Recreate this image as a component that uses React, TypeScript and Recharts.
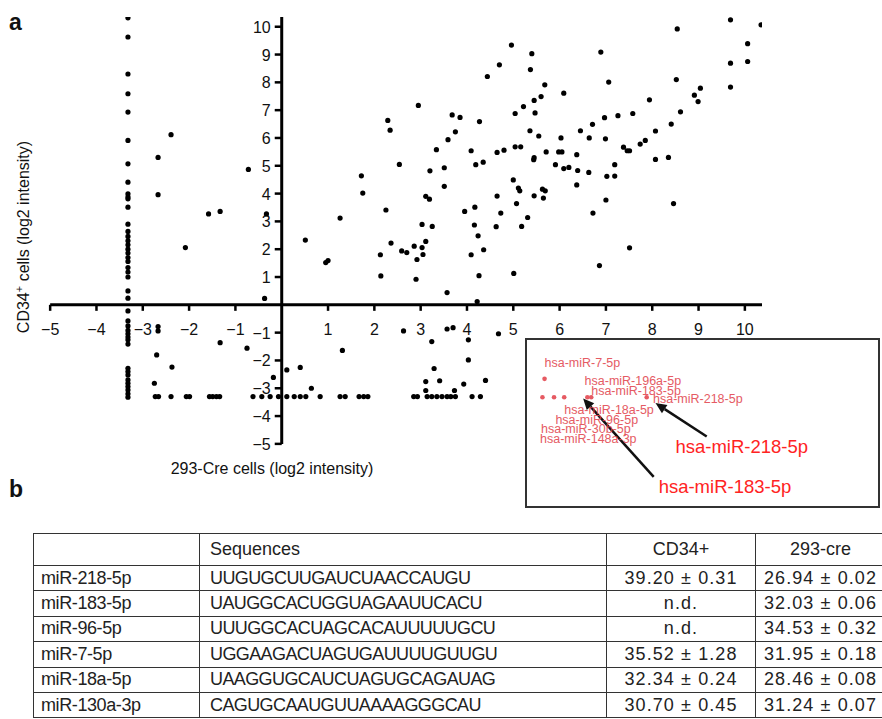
import { ScatterChart, Scatter, XAxis, YAxis, ReferenceLine } from "recharts";

// ---- panel a: main scatter (log2 intensity) ----
// dense column of points at x = -3.32 (not detected in 293-Cre)
const COL_X = -3.32;
const COL_Y = [
  10.32, 9.63, 8.3, 7.59, 6.93, 5.91, 5.07, 4.41, 3.99, 3.88, 3.81, 3.51, 2.9, 2.64, 2.46, 2.3, 2.16, 2.0,
  1.86, 1.7, 1.56, 1.34, 1.18, 1.0, 0.5, 0.24, -0.22, -0.58, -0.76, -0.92, -1.04, -1.16, -1.26, -1.41,
  -2.28, -2.4, -2.52, -2.7, -2.82, -2.94, -3.06, -3.2, -3.32,
];

// row of points at y = -3.3 (not detected in CD34+)
const ROW_Y = -3.3;
const ROW_X = [
  -2.73, -2.66, -2.39, -2.06, -1.99, -1.56, -1.49, -1.41, -1.34, -0.62, -0.43, -0.25, -0.07, 0.11, 0.27,
  0.4, 0.52, 0.83, 1.26, 1.37, 1.67, 1.77, 1.86, 2.85, 2.93, 3.14, 3.24, 3.35, 3.46, 3.57, 3.65, 3.75,
  4.11, 4.29,
];

const LEFT_PTS = [
  [-2.67, 5.3], [-2.39, 6.12], [-2.67, 3.96], [-1.58, 3.27], [-1.33, 3.36], [-2.08, 2.06], [-0.72, 4.87],
  [-0.33, 3.27], [-0.37, 0.23], [-2.67, -0.78], [-2.67, -0.94], [-1.33, -1.36], [-0.75, -1.56],
  [-2.7, -1.8], [-2.37, -2.24], [-2.75, -2.82], [-0.18, -2.61],
];

const LOW_RIGHT_PTS = [
  [0.11, -2.34], [0.4, -2.25], [0.64, -3.0], [1.31, -1.64], [2.63, -0.94], [3.24, -1.32], [3.57, -0.87],
  [3.7, -0.82], [4.03, -1.26], [4.68, -1.04], [4.03, -1.98], [3.29, -2.29], [3.11, -2.76], [3.41, -2.73],
  [4.4, -2.72], [3.93, -2.85], [3.11, -3.08], [3.73, -3.08],
];

const UP_RIGHT_PTS = [
  [4.22, 0.12], [3.57, 0.44], [1.0, 1.59], [0.95, 1.52], [4.96, 9.34], [4.7, 8.63], [4.44, 8.21],
  [2.95, 7.17], [2.29, 6.63], [2.34, 6.28], [3.68, 6.83], [3.85, 6.74], [4.27, 6.59], [3.75, 6.22],
  [3.59, 5.94], [3.34, 5.58], [4.09, 5.54], [5.04, 6.88], [5.04, 5.68], [5.16, 5.68], [4.65, 5.48],
  [4.8, 5.56], [4.19, 5.04], [4.35, 5.13], [2.54, 5.05], [3.2, 4.82], [3.51, 4.93], [1.72, 4.64],
  [1.75, 4.02], [3.11, 3.9], [3.19, 3.8], [3.51, 4.26], [2.25, 3.41], [1.26, 3.12], [0.51, 2.33],
  [3.03, 2.89], [3.25, 2.82], [2.36, 2.22], [2.13, 1.8], [2.59, 1.94], [2.7, 1.88], [2.86, 2.11],
  [3.03, 2.06], [3.11, 2.28], [2.92, 1.63], [3.05, 1.81], [2.14, 1.04], [2.9, 0.92], [3.95, 3.36],
  [4.17, 3.51], [4.16, 2.87], [4.24, 2.48], [4.36, 1.98], [4.09, 1.8], [4.26, 1.05], [4.65, 3.91],
  [4.73, 3.3], [4.63, 2.81], [5.0, 4.49], [5.11, 4.2], [5.14, 4.1], [5.07, 3.64], [5.18, 2.82],
  [5.01, 1.13], [5.31, 3.14], [5.44, 5.22], [5.91, 5.04], [6.09, 4.9], [6.2, 4.94], [6.39, 4.83],
  [6.63, 4.76], [6.37, 4.31], [5.45, 3.92], [5.63, 4.16], [5.69, 4.1], [5.65, 3.84], [7.02, 4.62],
  [7.19, 4.63], [7.19, 5.04], [7.0, 3.77], [6.72, 3.3], [8.46, 3.64], [7.51, 2.05], [6.86, 1.41],
  [8.54, 9.92], [9.69, 10.25], [10.35, 10.07], [10.06, 9.39], [10.06, 8.75], [9.69, 8.69], [9.69, 7.83],
  [8.52, 8.1], [6.89, 9.09], [7.06, 8.01], [5.4, 9.03], [5.37, 8.46], [5.68, 7.91], [5.6, 7.49],
  [5.45, 7.35], [5.22, 7.13], [5.47, 6.9], [6.09, 7.61], [7.94, 7.37], [9.04, 7.79], [8.91, 7.54],
  [8.99, 7.31], [8.61, 6.94], [8.41, 6.5], [8.07, 6.25], [7.58, 6.88], [7.26, 6.8], [6.97, 6.73],
  [6.71, 6.49], [6.45, 6.26], [6.64, 6.0], [6.99, 5.97], [6.03, 6.0], [5.36, 6.26], [5.55, 6.07],
  [5.45, 5.29], [5.71, 5.5], [5.98, 5.5], [6.05, 5.5], [6.37, 5.4], [7.38, 5.67], [7.46, 5.54],
  [7.51, 5.54], [7.74, 5.78], [7.85, 5.91], [8.07, 5.23], [8.35, 5.3],
];

const X_TICKS = [-5, -4, -3, -2, -1, 1, 2, 3, 4, 5, 6, 7, 8, 9, 10];
const Y_TICKS = [-5, -4, -3, -2, -1, 1, 2, 3, 4, 5, 6, 7, 8, 9, 10];
const X_MIN = -5, X_MAX = 10.37, Y_MIN = -5, Y_MAX = 10.35;

// ---- inset (zoomed view, arbitrary 0-100 units) ----
const INSET_DOTS = [[5.0, 76.6], [4.4, 65.5], [7.7, 65.5], [10.6, 65.5], [17.2, 65.5], [18.3, 65.5], [34.1, 65.5]];
const INSET_NAMES = [
  "hsa-miR-7-5p", "hsa-miR-196a-5p", "hsa-miR-183-5p", "hsa-miR-218-5p",
  "hsa-miR-18a-5p", "hsa-miR-96-5p", "hsa-miR-30b-5p", "hsa-miR-148a-3p",
];
const INSET_NAME_POS = [[5.0, 86.6], [16.4, 75.7], [18.3, 69.4], [35.9, 64.7], [10.6, 58.2], [8.1, 52.2], [4.0, 46.5], [3.7, 40.6]];
const CALLOUTS = ["hsa-miR-218-5p", "hsa-miR-183-5p"];
const CALLOUT_POS = [[42.3, 35.7], [37.5, 11.6]];
const ARROWS = [
  [[51.2, 41.9], [36.6, 62.0]],
  [[36.1, 17.5], [16.0, 64.8]],
];

// ---- panel b: table ----
const MIRS = ["miR-218-5p", "miR-183-5p", "miR-96-5p", "miR-7-5p", "miR-18a-5p", "miR-130a-3p"];
const SEQS = [
  "UUGUGCUUGAUCUAACCAUGU", "UAUGGCACUGGUAGAAUUCACU", "UUUGGCACUAGCACAUUUUUGCU",
  "UGGAAGACUAGUGAUUUUGUUGU", "UAAGGUGCAUCUAGUGCAGAUAG", "CAGUGCAAUGUUAAAAGGGCAU",
];
const CD34 = ["39.20 ± 0.31", "n.d.", "n.d.", "35.52 ± 1.28", "32.34 ± 0.24", "30.70 ± 0.45"];
const CRE = ["26.94 ± 0.02", "32.03 ± 0.06", "34.53 ± 0.32", "31.95 ± 0.18", "28.46 ± 0.08", "31.24 ± 0.07"];

const FONT = "'Liberation Sans', Arial, Helvetica, sans-serif";

const toPts = (arr: number[][]) => arr.map(([x, y]) => ({ x, y }));
const ALL_PTS = [
  ...COL_Y.map((y) => ({ x: COL_X, y })),
  ...ROW_X.map((x) => ({ x, y: ROW_Y })),
  ...toPts(LEFT_PTS),
  ...toPts(LOW_RIGHT_PTS),
  ...toPts(UP_RIGHT_PTS),
];
const fmt = (t: number) => (t < 0 ? `\u2212${-t}` : `${t}`);

const dot = (p: any) => <circle cx={p.cx} cy={p.cy} r={2.6} fill="#000" />;

function MainScatter() {
  // domain padded on the left/bottom so the tick labels at -5 are not clipped
  return (
    <ScatterChart width={770} height={456} margin={{ top: 17, right: 8, bottom: 1, left: 27 }}>
      <XAxis type="number" dataKey="x" domain={[-5.5, X_MAX]} hide allowDataOverflow />
      <YAxis type="number" dataKey="y" domain={[-5.4, Y_MAX]} hide allowDataOverflow />
      <ReferenceLine segment={[{ x: X_MIN, y: 0 }, { x: X_MAX, y: 0 }]} stroke="#000" strokeWidth={3} />
      <ReferenceLine segment={[{ x: 0, y: Y_MIN }, { x: 0, y: Y_MAX }]} stroke="#000" strokeWidth={3} />
      {/* x ticks + labels on the y=0 line */}
      <Scatter
        data={X_TICKS.map((x) => ({ x, y: 0 }))}
        isAnimationActive={false}
        shape={(p: any) => (
          <g>
            <line x1={p.cx} y1={p.cy} x2={p.cx} y2={p.cy + 6} stroke="#000" strokeWidth={2.5} />
            <text x={p.cx} y={p.cy + 30} textAnchor="middle" fontSize={16} fontFamily={FONT} fill="#111">
              {fmt(p.payload.x)}
            </text>
          </g>
        )}
      />
      {/* y ticks + labels on the x=0 line */}
      <Scatter
        data={Y_TICKS.map((y) => ({ x: 0, y }))}
        isAnimationActive={false}
        shape={(p: any) => (
          <g>
            <line x1={p.cx - 7} y1={p.cy} x2={p.cx} y2={p.cy} stroke="#000" strokeWidth={2.5} />
            <text x={p.cx - 11} y={p.cy + 6} textAnchor="end" fontSize={16} fontFamily={FONT} fill="#111">
              {fmt(p.payload.y)}
            </text>
          </g>
        )}
      />
      <Scatter data={ALL_PTS} isAnimationActive={false} shape={dot} />
    </ScatterChart>
  );
}

const arrowShape = (p: any) => {
  const { x1, y1, x2, y2 } = p;
  const a = Math.atan2(y2 - y1, x2 - x1);
  const L = 11, w = 5;
  const bx = x2 - L * Math.cos(a), by = y2 - L * Math.sin(a);
  const pts = `${x2},${y2} ${bx + w * Math.sin(a)},${by - w * Math.cos(a)} ${bx - w * Math.sin(a)},${by + w * Math.cos(a)}`;
  return (
    <g>
      <line x1={x1} y1={y1} x2={bx} y2={by} stroke="#111" strokeWidth={2.5} />
      <polygon points={pts} fill="#111" />
    </g>
  );
};

function Inset() {
  const names = INSET_NAMES.map((n, i) => ({ x: INSET_NAME_POS[i][0], y: INSET_NAME_POS[i][1], n }));
  const calls = CALLOUTS.map((n, i) => ({ x: CALLOUT_POS[i][0], y: CALLOUT_POS[i][1], n }));
  return (
    <ScatterChart width={351} height={166} margin={{ top: 0, right: 0, bottom: 0, left: 0 }}>
      <XAxis type="number" dataKey="x" domain={[0, 100]} hide />
      <YAxis type="number" dataKey="y" domain={[0, 100]} hide />
      <Scatter
        data={toPts(INSET_DOTS)}
        isAnimationActive={false}
        shape={(p: any) => <circle cx={p.cx} cy={p.cy} r={2.3} fill="#e65a62" />}
      />
      <Scatter
        data={names}
        isAnimationActive={false}
        shape={(p: any) => (
          <text x={p.cx} y={p.cy + 4.5} fontSize={12.5} fontFamily={FONT} fill="#e2454e" opacity={0.88}>
            {p.payload.n}
          </text>
        )}
      />
      <Scatter
        data={calls}
        isAnimationActive={false}
        shape={(p: any) => (
          <text x={p.cx} y={p.cy + 6.5} fontSize={18.5} fontFamily={FONT} fill="#ff2323">
            {p.payload.n}
          </text>
        )}
      />
      {ARROWS.map(([s, e], i) => (
        <ReferenceLine
          key={i}
          segment={[{ x: s[0], y: s[1] }, { x: e[0], y: e[1] }]}
          stroke="#111"
          shape={arrowShape}
        />
      ))}
    </ScatterChart>
  );
}

const cell: React.CSSProperties = {
  border: "1px solid #333",
  padding: "0 7px",
  height: 24.4,
  whiteSpace: "nowrap",
  overflow: "hidden",
};
const seqCell: React.CSSProperties = { ...cell, paddingLeft: 10, letterSpacing: -0.6 };
const numCell: React.CSSProperties = { ...cell, textAlign: "center", letterSpacing: 1.1 };

export default function App() {
  return (
    <div
      style={{
        position: "absolute", left: 0, top: 0, width: 882, height: 719,
        overflow: "hidden", background: "#fff", fontFamily: FONT,
      }}
    >
      <div style={{ position: "absolute", left: 0, top: 0 }}>
        <MainScatter />
      </div>

      <svg width={882} height={719} style={{ position: "absolute", left: 0, top: 0, pointerEvents: "none" }}>
        <text x={9} y={30} fontSize={23} fontWeight="bold" fontFamily={FONT} fill="#111">a</text>
        <text x={9} y={497} fontSize={23} fontWeight="bold" fontFamily={FONT} fill="#111">b</text>
        <text x={272} y={474} textAnchor="middle" fontSize={16} fontFamily={FONT} fill="#111">
          293-Cre cells (log2 intensity)
        </text>
        <text transform="translate(29,237) rotate(-90)" textAnchor="middle" fontSize={16} fontFamily={FONT} fill="#111">
          CD34<tspan dy={-6} fontSize={11}>+</tspan>
          <tspan dy={6}> cells (log2 intensity)</tspan>
        </text>
      </svg>

      <div
        style={{
          position: "absolute", left: 525, top: 338, width: 355, height: 170,
          border: "2px solid #333", boxSizing: "border-box", background: "#fff",
        }}
      >
        <Inset />
      </div>

      <table
        style={{
          position: "absolute", left: 33, top: 533, borderCollapse: "collapse", tableLayout: "fixed",
          width: 852, fontFamily: FONT, fontSize: 18, color: "#222", border: "1px solid #333",
        }}
      >
        <colgroup>
          <col style={{ width: 166 }} />
          <col style={{ width: 407 }} />
          <col style={{ width: 149 }} />
          <col style={{ width: 130 }} />
        </colgroup>
        <tbody>
          <tr>
            <td style={{ ...cell, height: 31 }}></td>
            <td style={{ ...cell, height: 31, paddingLeft: 10 }}>Sequences</td>
            <td style={{ ...cell, height: 31, textAlign: "center" }}>CD34+</td>
            <td style={{ ...cell, height: 31, textAlign: "center" }}>293-cre</td>
          </tr>
          {MIRS.map((m, i) => (
            <tr key={m}>
              <td style={{ ...cell, letterSpacing: -0.4 }}>{m}</td>
              <td style={seqCell}>{SEQS[i]}</td>
              <td style={numCell}>{CD34[i]}</td>
              <td style={numCell}>{CRE[i]}</td>
            </tr>
          ))}
        </tbody>
      </table>
    </div>
  );
}
